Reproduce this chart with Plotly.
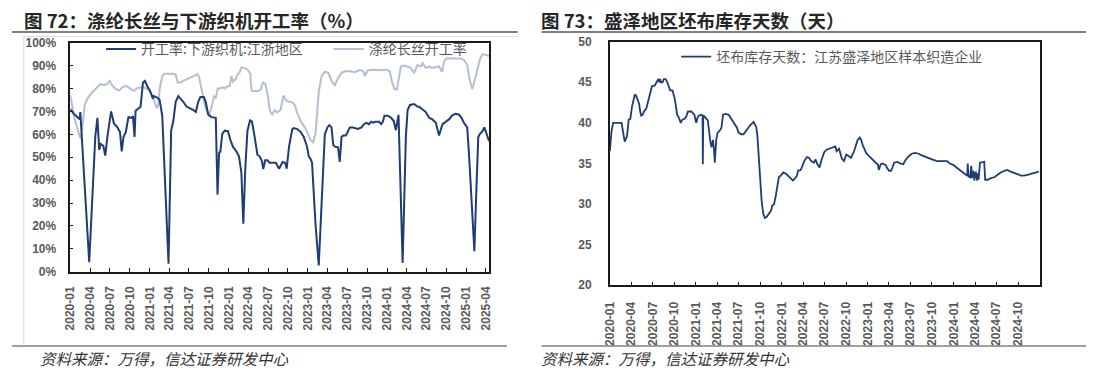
import plotly.graph_objects as go

W, H = 1094, 378

# ---------------- Left chart data (图72) ----------------
loom_dates = [
    "2020-01-01", "2020-01-16", "2020-01-28", "2020-02-07", "2020-02-13", "2020-02-16", "2020-02-23",
    "2020-03-28", "2020-04-25", "2020-05-05", "2020-05-13", "2020-05-20", "2020-06-01", "2020-06-10",
    "2020-06-20", "2020-07-07", "2020-07-20", "2020-08-05", "2020-08-17", "2020-08-25", "2020-09-02",
    "2020-09-13", "2020-09-25", "2020-10-10", "2020-10-16", "2020-10-23", "2020-10-28", "2020-11-13",
    "2020-11-20", "2020-12-01", "2020-12-10", "2020-12-20", "2021-01-02", "2021-01-16", "2021-01-20",
    "2021-02-05", "2021-02-16", "2021-02-28", "2021-03-13", "2021-03-29", "2021-04-10", "2021-04-20",
    "2021-05-01", "2021-05-13", "2021-05-20", "2021-06-05", "2021-06-20", "2021-07-05", "2021-07-20",
    "2021-08-02", "2021-08-13", "2021-08-23", "2021-09-08", "2021-09-17", "2021-09-28", "2021-10-13",
    "2021-10-28", "2021-11-02", "2021-11-10", "2021-11-17", "2021-11-23", "2021-12-02", "2021-12-13",
    "2021-12-28", "2022-01-09", "2022-01-20", "2022-02-05", "2022-02-17", "2022-02-28", "2022-03-09",
    "2022-03-18", "2022-03-28", "2022-04-09", "2022-04-18", "2022-04-28", "2022-05-13", "2022-05-23",
    "2022-06-03", "2022-06-09", "2022-06-18", "2022-06-28", "2022-07-09", "2022-08-06", "2022-08-21",
    "2022-09-06", "2022-09-18", "2022-09-25", "2022-10-06", "2022-10-21", "2022-10-28", "2022-11-13",
    "2022-11-28", "2022-12-13", "2022-12-28", "2023-01-05", "2023-01-13", "2023-01-20", "2023-02-05",
    "2023-02-20", "2023-03-01", "2023-03-13", "2023-03-20", "2023-04-01", "2023-04-10", "2023-04-20",
    "2023-04-28", "2023-05-05", "2023-05-20", "2023-05-28", "2023-06-05", "2023-06-13", "2023-06-25",
    "2023-07-05", "2023-07-13", "2023-07-28", "2023-08-20", "2023-09-05", "2023-09-16", "2023-09-28",
    "2023-10-10", "2023-10-20", "2023-10-28", "2023-11-10", "2023-11-25", "2023-12-05", "2023-12-13",
    "2023-12-20", "2024-01-05", "2024-01-20", "2024-02-01", "2024-02-11", "2024-02-23", "2024-03-13",
    "2024-03-28", "2024-04-05", "2024-04-16", "2024-05-05", "2024-05-20", "2024-05-28", "2024-06-13",
    "2024-06-28", "2024-07-13", "2024-07-28", "2024-08-13", "2024-08-28", "2024-09-13", "2024-09-28",
    "2024-10-13", "2024-10-28", "2024-11-13", "2024-11-28", "2024-12-10", "2024-12-20", "2025-01-05",
    "2025-01-13", "2025-01-23", "2025-02-07", "2025-02-16", "2025-02-25", "2025-03-05", "2025-03-16",
    "2025-03-25", "2025-04-05", "2025-04-16",
]
loom_rate = [
    71, 69, 68, 67, 66.5, 69.7, 59,
    4.2, 59, 67.2, 53.2, 55.8, 55, 50.7,
    59, 70, 64.7, 63, 61, 52.5, 58.8,
    61, 67.5, 67.2, 68, 58.8, 70.3, 71.4,
    72, 82.6, 83.3, 81.2, 79, 75.6, 76.7,
    76, 75, 68, 42, 3.5, 61.6, 65.8,
    74.2, 76.7, 75.9, 74.2, 72.1, 71.4, 70.7,
    69.7, 74.2, 76.3, 76.3, 74, 68.6, 67.5,
    67.5, 67.2, 33.6, 51.8, 52.5, 60.2, 61.6,
    61.4, 57.4, 54.6, 52.5, 50.4, 43.4, 21,
    44.8, 61.6, 66.1, 65.5, 60.2, 51.1, 50.4,
    48.3, 44.8, 48.7, 48.7, 47.6, 47.6, 45,
    47.9, 47.6, 45, 54.6, 62.3, 62.7, 62.3,
    61, 58.8, 54.6, 50.4, 49.3, 47.6, 21,
    2.8, 21, 49, 60, 63, 64, 63,
    55.3, 54.6, 54.3, 48, 58.8, 59.5, 59.5,
    61.3, 63, 63, 62.3, 63, 64.4, 65,
    64.4, 65.5, 65.1, 65.5, 65.5, 64.4, 65.5,
    68.1, 68.1, 67.2, 65.8, 61.8, 68.5, 3.9,
    59, 70.6, 72.8, 73.2, 72.1, 72, 70.6,
    69.7, 67.2, 66.5, 65.1, 59.5, 64.4, 65.5,
    66.5, 68.3, 68.9, 68.6, 67.2, 65.1, 63,
    51.8, 35, 9, 35, 58.8, 60.2, 61.3,
    63, 60.2, 57,
]

filament_dates = [
    "2020-01-01", "2020-01-20", "2020-02-13", "2020-02-20", "2020-03-07", "2020-03-20", "2020-04-05",
    "2020-04-20", "2020-05-05", "2020-05-20", "2020-06-05", "2020-06-20", "2020-07-01", "2020-07-13",
    "2020-07-28", "2020-08-13", "2020-08-28", "2020-09-13", "2020-10-05", "2020-10-20", "2020-11-05",
    "2020-11-20", "2020-12-05", "2020-12-20", "2021-01-01", "2021-01-13", "2021-01-25", "2021-02-02",
    "2021-02-10", "2021-02-16", "2021-02-28", "2021-03-10", "2021-04-13", "2021-05-01", "2021-05-10",
    "2021-05-20", "2021-06-05", "2021-06-20", "2021-07-05", "2021-07-20", "2021-08-10", "2021-08-17",
    "2021-08-25", "2021-09-04", "2021-09-14", "2021-09-25", "2021-10-05", "2021-10-16", "2021-10-25",
    "2021-11-02", "2021-11-11", "2021-11-20", "2021-12-01", "2021-12-13", "2021-12-25", "2022-01-05",
    "2022-01-13", "2022-01-20", "2022-02-01", "2022-02-10", "2022-02-20", "2022-03-01", "2022-03-13",
    "2022-03-28", "2022-04-10", "2022-04-16", "2022-05-13", "2022-05-28", "2022-06-07", "2022-06-19",
    "2022-06-30", "2022-07-10", "2022-07-20", "2022-08-01", "2022-08-13", "2022-08-28", "2022-09-10",
    "2022-09-20", "2022-10-05", "2022-10-20", "2022-11-01", "2022-11-13", "2022-11-28", "2022-12-13",
    "2022-12-28", "2023-01-13", "2023-01-25", "2023-02-05", "2023-02-13", "2023-02-20", "2023-03-05",
    "2023-03-20", "2023-04-05", "2023-04-20", "2023-05-05", "2023-05-20", "2023-06-05", "2023-06-20",
    "2023-07-13", "2023-08-05", "2023-08-28", "2023-09-13", "2023-09-20", "2023-10-05", "2023-10-28",
    "2023-11-28", "2023-12-28", "2024-01-13", "2024-01-25", "2024-02-04", "2024-02-16", "2024-02-25",
    "2024-03-05", "2024-03-20", "2024-04-05", "2024-04-20", "2024-05-05", "2024-05-20", "2024-06-05",
    "2024-06-13", "2024-06-28", "2024-07-13", "2024-07-28", "2024-08-13", "2024-08-28", "2024-09-11",
    "2024-09-20", "2024-10-01", "2024-10-20", "2024-11-13", "2024-12-05", "2024-12-20", "2025-01-05",
    "2025-01-16", "2025-01-28", "2025-02-10", "2025-02-20", "2025-03-05", "2025-03-16", "2025-03-28",
    "2025-04-16",
]
filament_rate = [
    77, 67, 59, 58, 72.8, 75.6, 77.7,
    79, 80.5, 82, 81.4, 82, 83.3, 81.2,
    79.8, 79.1, 80.5, 81.2, 79.8, 79, 80.1,
    80.5, 80.5, 79.8, 79, 77, 73.5, 71.4,
    72.8, 79.8, 85.4, 86.4, 86.4, 86.1, 82.6,
    82.5, 83.3, 84, 84.7, 85.5, 86.2, 85,
    81.2, 76, 72, 69.5, 69, 73, 76.5,
    76, 80, 80, 80.5, 80, 81, 81,
    85.4, 83, 84, 86, 87.1, 89.2, 89,
    88.3, 86.5, 79, 78.8, 79.5, 82.6, 82,
    77, 70, 68.7, 70.5, 69.5, 70.7, 77,
    75, 74.2, 74, 72.8, 69.3, 65.8, 63.7,
    61.3, 57.4, 56.5, 60.2, 71.4, 78.4, 85.4,
    87.3, 86.8, 83.3, 81.5, 84.5, 86.8, 87.5,
    87.5, 87.1, 88, 87.6, 85.4, 88, 88.2,
    88, 88.2, 87.6, 82.6, 79.8, 79.5, 84.5,
    89.6, 90, 89.6, 89, 86.8, 90.2, 89.6,
    91, 89, 89.6, 89, 89.3, 89.6, 87.3,
    91.7, 93.1, 93.1, 93.1, 93.1, 92.5, 90.3,
    84, 79.8, 84, 88.5, 92.8, 95, 94.6,
    94.3,
]

# ---------------- Right chart data (图73) ----------------
stock_dates = [
    "2020-01-01", "2020-01-05", "2020-01-08", "2020-01-15", "2020-02-20", "2020-02-23", "2020-02-29",
    "2020-03-04", "2020-03-10", "2020-03-14", "2020-03-21", "2020-03-28", "2020-04-04", "2020-04-11",
    "2020-04-16", "2020-04-22", "2020-04-28", "2020-05-04", "2020-05-09", "2020-05-13", "2020-05-19",
    "2020-05-25", "2020-06-04", "2020-06-09", "2020-06-16", "2020-06-22", "2020-06-28", "2020-07-10",
    "2020-07-18", "2020-07-25", "2020-07-29", "2020-08-01", "2020-08-05", "2020-08-12", "2020-08-17",
    "2020-08-25", "2020-09-01", "2020-09-07", "2020-09-13", "2020-09-23", "2020-10-01", "2020-10-07",
    "2020-10-13", "2020-10-21", "2020-10-28", "2020-11-04", "2020-11-14", "2020-11-21", "2020-11-28",
    "2020-12-12", "2020-12-19", "2020-12-25", "2021-01-02", "2021-01-07", "2021-01-13", "2021-01-25",
    "2021-01-29", "2021-01-30", "2021-02-01", "2021-02-06", "2021-02-13", "2021-02-20", "2021-02-24",
    "2021-02-28", "2021-03-04", "2021-03-08", "2021-03-14", "2021-03-18", "2021-03-22", "2021-03-28",
    "2021-04-03", "2021-04-11", "2021-04-19", "2021-04-26", "2021-05-07", "2021-05-20", "2021-05-29",
    "2021-06-10", "2021-06-24", "2021-07-01", "2021-07-12", "2021-07-22", "2021-08-01", "2021-08-10",
    "2021-08-19", "2021-09-03", "2021-09-10", "2021-09-14", "2021-09-19", "2021-09-24", "2021-09-30",
    "2021-10-07", "2021-10-14", "2021-10-21", "2021-10-28", "2021-11-05", "2021-11-16", "2021-11-21",
    "2021-11-29", "2021-12-06", "2021-12-13", "2021-12-19", "2021-12-27", "2022-01-07", "2022-01-20",
    "2022-02-04", "2022-02-17", "2022-02-27", "2022-03-06", "2022-03-11", "2022-03-22", "2022-04-06",
    "2022-04-17", "2022-04-26", "2022-05-06", "2022-05-17", "2022-05-24", "2022-06-01", "2022-06-10",
    "2022-06-19", "2022-06-30", "2022-07-10", "2022-07-24", "2022-08-07", "2022-08-16", "2022-08-22",
    "2022-09-01", "2022-09-13", "2022-09-22", "2022-10-02", "2022-10-13", "2022-10-22", "2022-11-04",
    "2022-11-13", "2022-11-19", "2022-11-28", "2022-12-04", "2022-12-10", "2022-12-25", "2023-01-10",
    "2023-01-22", "2023-02-07", "2023-02-13", "2023-02-17", "2023-02-25", "2023-03-04", "2023-03-19",
    "2023-03-25", "2023-04-02", "2023-04-10", "2023-04-16", "2023-04-23", "2023-05-07", "2023-05-19",
    "2023-06-01", "2023-06-10", "2023-06-24", "2023-07-07", "2023-07-22", "2023-08-05", "2023-08-19",
    "2023-09-10", "2023-10-01", "2023-10-22", "2023-12-04", "2023-12-16", "2024-01-01", "2024-01-13",
    "2024-01-28", "2024-02-10", "2024-02-25", "2024-02-28", "2024-03-01", "2024-03-04", "2024-03-11",
    "2024-03-16", "2024-03-19", "2024-03-25", "2024-03-29", "2024-04-04", "2024-04-10", "2024-04-13",
    "2024-04-16", "2024-04-22", "2024-05-10", "2024-05-14", "2024-05-25", "2024-06-07", "2024-06-22",
    "2024-07-05", "2024-07-19", "2024-08-04", "2024-08-16", "2024-08-30", "2024-09-13", "2024-09-28",
    "2024-10-13", "2024-10-25", "2024-11-10", "2024-11-22", "2024-12-07", "2024-12-28",
]
stock_days = [
    36.5, 38.6, 39, 40, 40, 39.4, 38.1,
    37.7, 38.1, 38.4, 40.4, 40.5, 42, 42.8,
    43.5, 43.3, 42.8, 42.4, 41.4, 40.9, 41,
    41.4, 41.8, 42.4, 43, 43.6, 44.5, 44.6,
    45, 45.4, 45, 45.4, 45, 45, 45.4,
    45.4, 45, 44.5, 44, 44, 43.2, 42.2,
    41, 40.6, 40, 40.4, 40.5, 40.8, 41.4,
    41.4, 41.1, 41, 40, 40.6, 40.9, 41,
    40.9, 34.9, 40.9, 40.8, 40.5, 40.3, 39.4,
    38.2, 37.5, 37, 37.9, 36.9, 35.1, 37.9,
    38.8, 39, 39.4, 41, 41.1, 41, 40.6,
    40, 39.4, 38.8, 38.6, 38.6, 39, 39.4,
    39.7, 40.1, 39.8, 39.5, 38.4, 35.9, 32.7,
    30.4, 28.8, 28.3, 28.4, 28.7, 29.2, 29.8,
    30, 31, 32.4, 33.3, 33.5, 33.9, 33.7,
    33.3, 32.9, 33.2, 33.5, 34.1, 34.2, 35.3,
    35.8, 35.7, 35.3, 35.1, 35.5, 34.9, 34.5,
    35.5, 36.4, 36.7, 36.9, 37, 37.1, 36.5,
    36.8, 35.6, 35.3, 36.1, 35.9, 35.7, 36.5,
    37.3, 37.9, 38.2, 37.9, 37.3, 36.3, 35.8,
    35.4, 35, 34.9, 34.2, 34.9, 35, 34.8,
    34.4, 34.1, 34.1, 34.5, 35.1, 35.2, 35,
    34.9, 35.4, 35.9, 36.2, 36.3, 36.2, 36,
    35.7, 35.5, 35.3, 35.3, 35, 34.8, 34.5,
    34.2, 33.9, 33.6, 33.5, 35, 33.4, 33.3,
    34.7, 33.2, 34.1, 32.9, 34, 32.9, 33.8,
    33, 35.1, 35.2, 33, 33, 33.2, 33.3,
    33.6, 33.9, 34.1, 34.2, 34, 33.9, 33.7,
    33.5, 33.5, 33.6, 33.7, 33.8, 34,
]

NAVY = "#1F3C74"
LIGHT = "#B3BFD2"
TICK_GRAY = "#595959"


def px(x):
    return x / W


def py(y):
    return 1 - y / H


fig = go.Figure()

fig.add_trace(go.Scatter(
    x=filament_dates, y=filament_rate, mode="lines", name="涤纶长丝开工率",
    line=dict(color=LIGHT, width=2), xaxis="x", yaxis="y", legend="legend2",
))
fig.add_trace(go.Scatter(
    x=loom_dates, y=loom_rate, mode="lines", name="开工率:下游织机:江浙地区",
    line=dict(color=NAVY, width=2), xaxis="x", yaxis="y", legend="legend",
))
fig.add_trace(go.Scatter(
    x=stock_dates, y=stock_days, mode="lines", name="坯布库存天数：江苏盛泽地区样本织造企业",
    line=dict(color=NAVY, width=1.8), xaxis="x2", yaxis="y2", legend="legend3",
))

tickfont = dict(family="Liberation Sans, Arial", size=12, color=TICK_GRAY, weight="bold")
axis_common = dict(showline=True, linecolor="#1a1a1a", linewidth=1.5, mirror=True,
                   showgrid=False, zeroline=False, tickfont=tickfont)

legend_font = dict(family="Noto Sans CJK SC", size=14, color=TICK_GRAY)

fig.update_layout(
    width=W, height=H,
    margin=dict(l=0, r=0, t=0, b=0),
    paper_bgcolor="white", plot_bgcolor="white",
    showlegend=True,
    xaxis=dict(domain=[px(64), px(487)], anchor="y", type="date",
               range=["2020-01-01", "2025-04-16"], dtick="M3", tick0="2020-01-01",
               tickformat="%Y-%m", tickangle=-90, ticks="inside", ticklen=4,
               tickcolor="#1a1a1a", ticklabelstandoff=8, **axis_common),
    yaxis=dict(domain=[py(275), py(37)], anchor="x", range=[0, 100], dtick=10,
               ticksuffix="%", ticks="inside", ticklen=3, tickcolor="#1a1a1a",
               ticklabelstandoff=10, **axis_common),
    xaxis2=dict(domain=[px(609), px(1043)], anchor="y2", type="date",
                range=["2020-01-01", "2024-12-31"], dtick="M3", tick0="2020-01-01",
                tickformat="%Y-%m", tickangle=-90, ticks="inside", ticklen=4,
                tickcolor="#1a1a1a", ticklabelstandoff=10, **axis_common),
    yaxis2=dict(domain=[py(289), py(36)], anchor="x2", range=[20, 50], dtick=5,
                ticks="", ticklabelstandoff=14, **axis_common),
    legend=dict(x=px(95), y=py(44), xanchor="left", yanchor="middle",
                bgcolor="rgba(0,0,0,0)", borderwidth=0, font=legend_font),
    legend2=dict(x=px(325), y=py(44), xanchor="left", yanchor="middle",
                 bgcolor="rgba(0,0,0,0)", borderwidth=0, font=legend_font),
    legend3=dict(x=px(676), y=py(52), xanchor="left", yanchor="middle",
                 bgcolor="rgba(0,0,0,0)", borderwidth=0,
                 font=dict(family="Noto Sans CJK SC", size=14, color=TICK_GRAY)),
)

rule = dict(color="#808080", width=2)
shapes = [
    dict(type="line", xref="paper", yref="paper", x0=px(5), x1=px(516), y0=py(26), y1=py(26), line=rule),
    dict(type="line", xref="paper", yref="paper", x0=px(540), x1=px(1090), y0=py(26), y1=py(26), line=rule),
    dict(type="line", xref="paper", yref="paper", x0=px(16), x1=px(516), y0=py(30.5), y1=py(30.5),
         line=dict(color="#d9d9d9", width=1)),
    dict(type="line", xref="paper", yref="paper", x0=px(17), x1=px(17), y0=py(30.5), y1=py(351),
         line=dict(color="#d9d9d9", width=1)),
    dict(type="line", xref="paper", yref="paper", x0=px(5), x1=px(505), y0=py(352), y1=py(352),
         line=dict(color="#808080", width=1.5)),
    dict(type="line", xref="paper", yref="paper", x0=px(540), x1=px(1090), y0=py(352), y1=py(352),
         line=dict(color="#808080", width=1.5)),
]
fig.update_layout(shapes=shapes)

title_font = dict(family="Noto Sans CJK SC", size=18.5, color="#262626", weight="bold")
src_font = dict(family="Noto Sans CJK SC", size=15.5, color="#333333", style="italic")
annotations = [
    dict(text="图 72：涤纶长丝与下游织机开工率（%）", x=px(15), y=py(14), xref="paper", yref="paper",
         xanchor="left", yanchor="middle", showarrow=False, font=title_font),
    dict(text="图 73：盛泽地区坯布库存天数（天）", x=px(537), y=py(14), xref="paper", yref="paper",
         xanchor="left", yanchor="middle", showarrow=False, font=title_font),
    dict(text="资料来源：万得，信达证券研发中心", x=px(31), y=py(364), xref="paper", yref="paper",
         xanchor="left", yanchor="middle", showarrow=False, font=src_font),
    dict(text="资料来源：万得，信达证券研发中心", x=px(537), y=py(364), xref="paper", yref="paper",
         xanchor="left", yanchor="middle", showarrow=False, font=src_font),
]
fig.update_layout(annotations=annotations)

fig.write_html("out.html", config={"displayModeBar": False},
               post_script="document.body.style.margin='0px';")
